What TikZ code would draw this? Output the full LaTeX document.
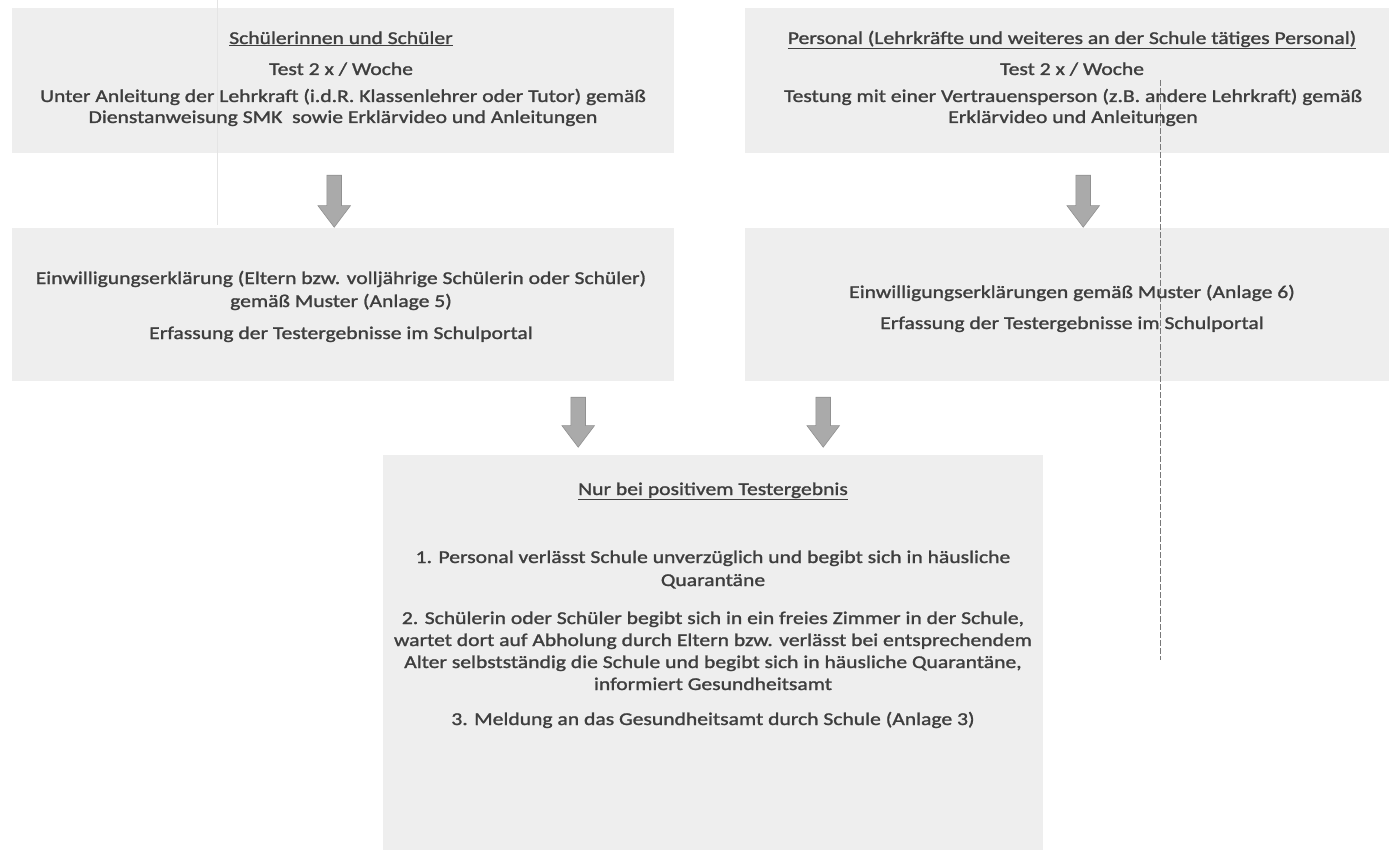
\documentclass[tikz,border=0pt]{standalone}
\usepackage{fontspec}
\setmainfont{Carlito}[FakeStretch=1.2,FakeBold=1.4]
\usetikzlibrary{shapes.arrows}
\definecolor{boxfill}{RGB}{238,238,238}
\definecolor{txtcol}{RGB}{62,62,62}
\definecolor{arrfill}{RGB}{170,170,170}
\definecolor{arrdraw}{RGB}{145,145,145}
\definecolor{scanline}{RGB}{120,120,120}
\begin{document}
\begin{tikzpicture}[x=1pt,y=-1pt,
  box/.style={rectangle, fill=boxfill, draw=none, anchor=north west, inner sep=0pt},
  line/.style={text=txtcol, font=\fontsize{18}{22}\selectfont, inner sep=0pt, anchor=base},
  darrow/.style={single arrow, shape border rotate=270, fill=arrfill, draw=arrdraw, line width=0.6pt,
    inner sep=7pt, single arrow head extend=9pt, single arrow tip angle=74, minimum height=#1},
]
\useasboundingbox[fill=white] (0,0) rectangle (1389,850);

% boxes
\node[box, minimum width=662pt, minimum height=145pt] (tl) at (12,8) {};
\node[box, minimum width=650pt, minimum height=145pt] (tr) at (745,8) {};
\node[box, minimum width=662pt, minimum height=153pt] (ml) at (12,228) {};
\node[box, minimum width=650pt, minimum height=153pt] (mr) at (745,228) {};
\node[box, minimum width=660pt, minimum height=395pt] (bt) at (383,455) {};

% scan artefacts
\draw[scanline!20, line width=0.5pt] (217,0) -- (217,225);
\draw[scanline, line width=0.5pt, dash pattern=on 6pt off 2pt] (1160,80) -- (1160,660);

% top left text
\node[line] (tl1) at (341,44) {\underline{Schülerinnen und Schüler}};
\node[line] (tl2) at (341,75) {Test 2 x / Woche};
\node[line] (tl3) at (343,102) {Unter Anleitung der Lehrkraft (i.d.R. Klassenlehrer oder Tutor) gemäß};
\node[line] (tl4) at (343,123) {Dienstanweisung SMK\ \ sowie Erklärvideo und Anleitungen};

% top right text
\node[line] (tr1) at (1072,44) {\underline{Personal (Lehrkräfte und weiteres an der Schule tätiges Personal)}};
\node[line] (tr2) at (1072,75) {Test 2 x / Woche};
\node[line] (tr3) at (1073,102) {Testung mit einer Vertrauensperson (z.B. andere Lehrkraft) gemäß};
\node[line] (tr4) at (1073,123) {Erklärvideo und Anleitungen};

% middle left text
\node[line] (ml1) at (341,284) {Einwilligungserklärung (Eltern bzw. volljährige Schülerin oder Schüler)};
\node[line] (ml2) at (341,307) {gemäß Muster (Anlage 5)};
\node[line] (ml3) at (341,339) {Erfassung der Testergebnisse im Schulportal};

% middle right text
\node[line] (mr1) at (1072,298) {Einwilligungserklärungen gemäß Muster (Anlage 6)};
\node[line] (mr2) at (1072,329) {Erfassung der Testergebnisse im Schulportal};

% bottom text
\node[line] (b1) at (713,495) {\underline{Nur bei positivem Testergebnis}};
\node[line] (b2) at (713,563) {1. Personal verlässt Schule unverzüglich und begibt sich in häusliche};
\node[line] (b3) at (713,586) {Quarantäne};
\node[line] (b4) at (713,624) {2. Schülerin oder Schüler begibt sich in ein freies Zimmer in der Schule,};
\node[line] (b5) at (713,646) {wartet dort auf Abholung durch Eltern bzw. verlässt bei entsprechendem};
\node[line] (b6) at (713,668) {Alter selbstständig die Schule und begibt sich in häusliche Quarantäne,};
\node[line] (b7) at (713,690) {informiert Gesundheitsamt};
\node[line] (b8) at (713,725) {3. Meldung an das Gesundheitsamt durch Schule (Anlage 3)};

% block arrows
\node[darrow=52pt] (a1) at ([xshift=-9pt,yshift=-43pt]tl.south) {};
\node[darrow=52pt] (a2) at ([xshift=13pt,yshift=-43pt]tr.south) {};
\node[darrow=50pt] (a3) at ([xshift=235pt,yshift=-36pt]ml.south) {};
\node[darrow=50pt] (a4) at ([xshift=-247pt,yshift=-36pt]mr.south) {};
\end{tikzpicture}
\end{document}
